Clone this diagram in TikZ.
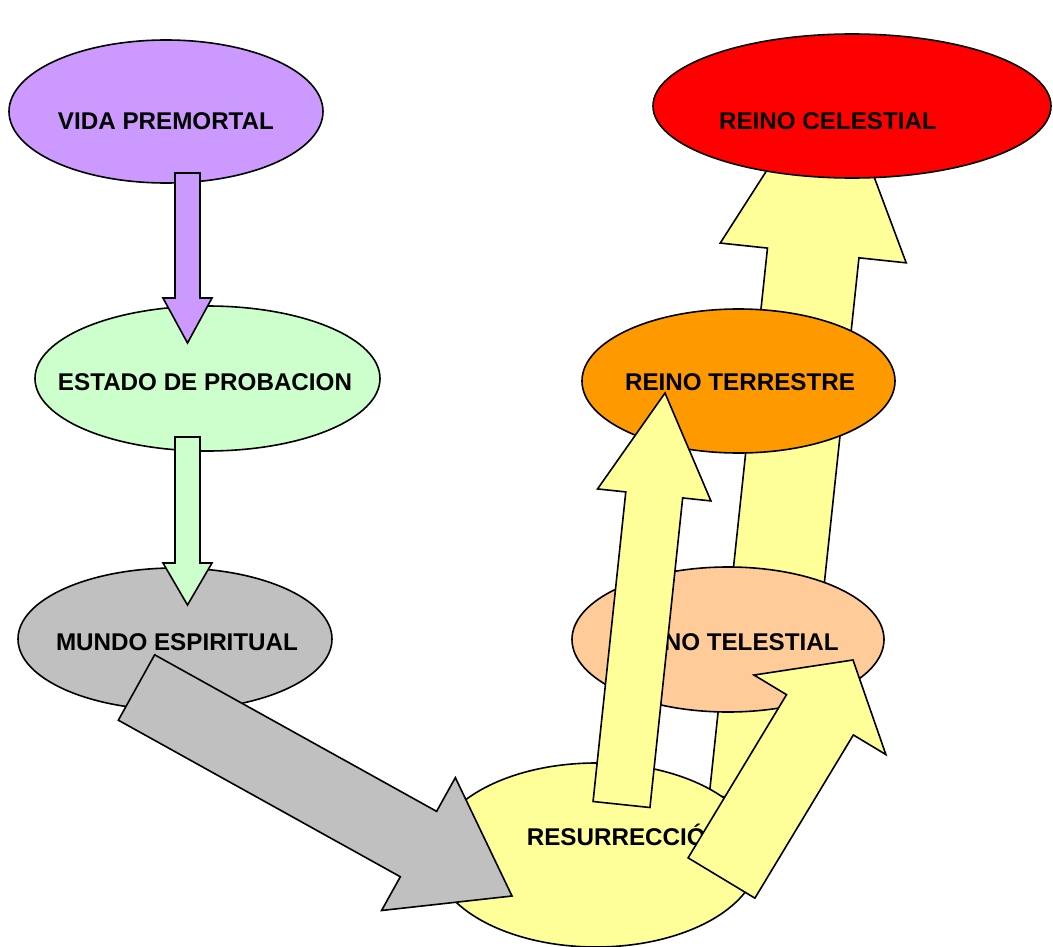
\documentclass[tikz,border=0pt]{standalone}
\usepackage{fontspec}
\setmainfont{Liberation Sans}
\usetikzlibrary{calc,shapes.geometric}

\definecolor{premortal}{HTML}{CC99FF}
\definecolor{probacion}{HTML}{CCFFCC}
\definecolor{espiritual}{HTML}{C0C0C0}
\definecolor{celestial}{HTML}{FF0000}
\definecolor{terrestre}{HTML}{FF9900}
\definecolor{telestial}{HTML}{FFCC99}
\definecolor{resurreccion}{HTML}{FFFF99}

\tikzset{
  etapa/.style={ellipse, draw, line width=1.6pt, inner sep=0pt},
  rotulo/.style={font=\fontsize{24.2}{28}\selectfont\bfseries, anchor=base, inner sep=0pt},
  flecha/.style={draw, line width=1.6pt, line join=miter},
}

% block arrow: fill, tail, tip, shaft half width, head half width, head length
\newcommand{\blockarrow}[6]{%
  \coordinate (ba-base) at ($(#3)!#6!(#2)$);
  \draw[flecha, fill=#1]
    ($(#2)!#4!90:(#3)$) -- ($(ba-base)!#4!90:(#3)$) -- ($(ba-base)!#5!90:(#3)$)
    -- (#3) -- ($(ba-base)!#5!-90:(#3)$) -- ($(ba-base)!#4!-90:(#3)$)
    -- ($(#2)!#4!-90:(#3)$) -- cycle;
}

\begin{document}
\begin{tikzpicture}[x=1pt,y=-1pt]
  \useasboundingbox (0,0) rectangle (1053,947);
  \clip (0,0) rectangle (1053,947);

  % ends of the arrows
  \coordinate (premortal-out) at (187.5,173);
  \coordinate (probacion-in) at (187.5,343);
  \coordinate (probacion-out) at (187.5,437);
  \coordinate (espiritual-in) at (187.5,605);
  \coordinate (espiritual-out) at (136.5,687.5);
  \coordinate (resurr-in) at (512,896);
  \coordinate (resurr-up) at (755,800);
  \coordinate (celestial-in) at (833,67);
  \coordinate (resurr-mid) at (621.5,804.5);
  \coordinate (terrestre-in) at (665,393);
  \coordinate (resurr-right) at (721.5,878);
  \coordinate (telestial-in) at (853,660);

  % long arrow to the celestial kingdom, behind everything
  \blockarrow{resurreccion}{resurr-up}{celestial-in}{46pt}{93.5pt}{187pt}

  % stages
  \node[etapa, fill=premortal, minimum width=314pt, minimum height=143pt] (vida) at (166,111.5) {};
  \node[etapa, fill=probacion, minimum width=345pt, minimum height=145pt] (probacion) at (207.5,378.5) {};
  \node[etapa, fill=espiritual, minimum width=314pt, minimum height=142pt] (mundo) at (175,639) {};
  \node[etapa, fill=celestial, minimum width=398pt, minimum height=144pt] (celeste) at (852,106) {};
  \node[etapa, fill=terrestre, minimum width=313pt, minimum height=144pt] (terrenal) at (738.5,381) {};
  \node[etapa, fill=telestial, minimum width=312pt, minimum height=145pt] (teleste) at (728,639.5) {};
  \node[etapa, fill=resurreccion, minimum width=326pt, minimum height=184pt] (resurr) at (596,855) {};

  % labels
  \node[rotulo] (vida-txt) at (166,130) {VIDA PREMORTAL};
  \node[rotulo] (probacion-txt) at (205,390) {ESTADO DE PROBACION};
  \node[rotulo] (mundo-txt) at (177,650) {MUNDO ESPIRITUAL};
  \node[rotulo] (celeste-txt) at (828,130) {REINO CELESTIAL};
  \node[rotulo] (terrenal-txt) at (740,390) {REINO TERRESTRE};
  \node[rotulo] (teleste-txt) at (731,650) {REINO TELESTIAL};
  \node[rotulo] (resurr-txt) at (625,845) {RESURRECCIÓN};

  % arrows on top
  \blockarrow{premortal}{premortal-out}{probacion-in}{12.5pt}{24.5pt}{45pt}
  \blockarrow{probacion}{probacion-out}{espiritual-in}{12.5pt}{24.5pt}{42pt}
  \blockarrow{espiritual}{espiritual-out}{resurr-in}{37.4pt}{76pt}{107pt}
  \blockarrow{resurreccion}{resurr-mid}{terrestre-in}{28.6pt}{57pt}{102.5pt}
  \blockarrow{resurreccion}{resurr-right}{telestial-in}{39pt}{77pt}{64pt}
\end{tikzpicture}
\end{document}
